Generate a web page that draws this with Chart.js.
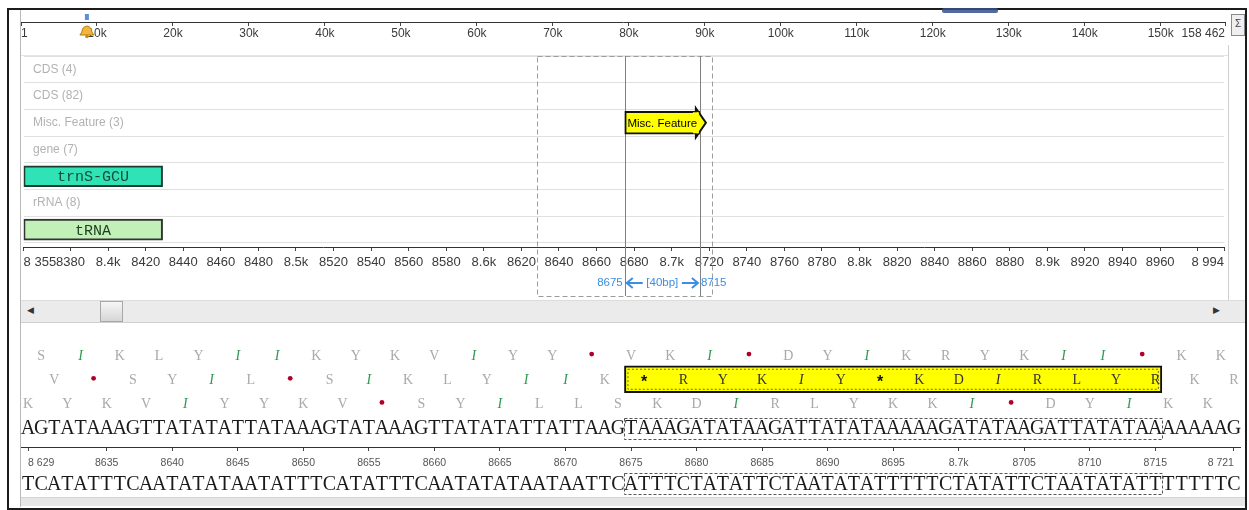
<!DOCTYPE html>
<html><head><meta charset="utf-8"><title>Sequence view</title>
<script src="https://cdn.jsdelivr.net/npm/chart.js@4.4.1/dist/chart.umd.min.js"></script>
<style>
html,body{margin:0;padding:0;background:#fff}
body{width:1249px;height:510px;position:relative;overflow:hidden;font-family:'Liberation Sans',Arial,sans-serif}
canvas{position:absolute;left:0}
.a{position:absolute;box-sizing:border-box}
</style></head><body>
<div class="a" style="left:7px;top:8px;width:1240px;height:502px;border:2px solid #1c1c1c"></div>
<div class="a" style="left:20px;top:10px;width:1px;height:497px;background:#b8b8b8"></div>
<div class="a" style="left:942px;top:8px;width:56px;height:5px;background:#34508c;border-radius:2px;opacity:.85"></div>
<div class="a" style="left:1231px;top:14px;width:14px;height:22px;border:1px solid #8a8a8a;background:#efefef;font-size:10px;line-height:18px;text-align:center;color:#444">Σ</div>
<div class="a" style="left:21px;top:55px;width:1208px;height:1px;background:#e4e4e4"></div>
<div class="a" style="left:1228px;top:45px;width:1px;height:255px;background:#cfcfcf"></div>
<div class="a" style="left:21px;top:300px;width:1224px;height:23px;background:#ebebeb;border-top:1px solid #dcdcdc;border-bottom:1px solid #d0d0d0"></div>
<div class="a" style="left:27px;top:305px;font-size:9px;color:#333">◀</div>
<div class="a" style="left:100px;top:301px;width:23px;height:21px;border:1px solid #a8a8a8;background:linear-gradient(#f6f6f6,#d6d6d6)"></div>
<div class="a" style="left:1213px;top:305px;font-size:9px;color:#333">▶</div>
<div class="a" style="left:21px;top:497px;width:1224px;height:9px;background:#e6e6e6;border-top:1px solid #d4d4d4"></div>

<canvas id="ov" width="1249" height="35" style="top:10px"></canvas>
<canvas id="tr" width="1249" height="255" style="top:45px"></canvas>
<canvas id="sq" width="1249" height="182" style="top:323px"></canvas>

<script>
// ---------------- data ----------------
const genomeLength = 158462;
const cursorPosition = 8675;
const overviewTicks = [1,10000,20000,30000,40000,50000,60000,70000,80000,90000,100000,110000,120000,130000,140000,150000,158462];
const overviewTickLabels = ['1','10k','20k','30k','40k','50k','60k','70k','80k','90k','100k','110k','120k','130k','140k','150k','158 462'];

const viewRange = [8355, 8994];
const trackNames = ['CDS (4)','CDS (82)','Misc. Feature (3)','gene (7)','','rRNA (8)',''];
const trackTicks = [8355,8380,8400,8420,8440,8460,8480,8500,8520,8540,8560,8580,8600,8620,8640,8660,8680,8700,8720,8740,8760,8780,8800,8820,8840,8860,8880,8900,8920,8940,8960,8980,8994];
const trackTickLabels = ['8 355','8380','8.4k','8420','8440','8460','8480','8.5k','8520','8540','8560','8580','8.6k','8620','8640','8660','8680','8.7k','8720','8740','8760','8780','8.8k','8820','8840','8860','8880','8.9k','8920','8940','8960','','8 994'];

const featureNames = ['Misc. Feature','trnS-GCU','tRNA'];
const featureStart = [8675, 8355, 8355];
const featureEnd   = [8715, 8429, 8429];
const featureTrack = [2, 4, 6];

const selection = [8675, 8715];
const seqRange = [8629, 8721];
const seqTicks = [8629,8635,8640,8645,8650,8655,8660,8665,8670,8675,8680,8685,8690,8695,8700,8705,8710,8715,8721];
const seqTickLabels = ['8 629','8635','8640','8645','8650','8655','8660','8665','8670','8675','8680','8685','8690','8695','8.7k','8705','8710','8715','8 721'];
const fwdSeq = 'AGTATAAAGTTATATATTATAAAGTATAAAGTTATATATTATTAAGTAAAGATATAAGATTATATAAAAAGATATAAGATTATATAAAAAAAG';
const revSeq = 'TCATATTTCAATATATAATATTTCATATTTCAATATATAATAATTCATTTCTATATTCTAATATATTTTTCTATATTCTAATATATTTTTTTC';
const frame1 = 'SIKLYIIKYKVIYY*VKI*DYIKRYKII*KK'.split('');
const frame2 = 'V*SYIL*SIKLYIIK*RYKIY*KDIRLYRKR'.split('');
const frame3 = 'KYKVIYYKV*SYILLSKDIRLYKKI*DYIKK'.split('');
const frameOffsets = [1, 2, 0];
const highlightFrame = 1;

// ---------------- setup ----------------
Chart.defaults.font.family = "'Liberation Sans', Arial, sans-serif";
Chart.defaults.animation = false;
Chart.defaults.plugins.legend.display = false;
Chart.defaults.plugins.tooltip.enabled = false;

const noPad = s => { s.paddingLeft = 0; s.paddingRight = 0; s.paddingTop = 0; s.paddingBottom = 0; };

// ---------- overview ----------
const overviewMarker = {
  id:'ovMarker',
  afterDraw(chart){
    const {ctx, chartArea:ca, scales:{x}} = chart;
    const px = x.getPixelForValue(cursorPosition);
    const yb = ca.bottom;
    ctx.save();
    ctx.fillStyle = '#5a8fdc';
    ctx.fillRect(px-2, yb-8, 4, 6);
    ctx.beginPath();
    ctx.moveTo(px, yb+4);
    ctx.quadraticCurveTo(px+5, yb+5, px+5, yb+10);
    ctx.lineTo(px+7, yb+13);
    ctx.lineTo(px-7, yb+13);
    ctx.lineTo(px-5, yb+10);
    ctx.quadraticCurveTo(px-5, yb+5, px, yb+4);
    ctx.closePath();
    ctx.fillStyle = '#f1b63c';
    ctx.fill();
    ctx.strokeStyle = '#b57d12';
    ctx.lineWidth = 1;
    ctx.stroke();
    ctx.beginPath();
    ctx.arc(px, yb+14.5, 1.8, 0, Math.PI*2);
    ctx.fillStyle = '#c98a1a';
    ctx.fill();
    ctx.restore();
  }
};

new Chart(document.getElementById('ov'), {
  type:'scatter',
  data:{datasets:[{data:[]}]},
  options:{
    responsive:false,
    layout:{padding:{left:21,right:24,top:0,bottom:0}},
    scales:{
      x:{type:'linear',min:1,max:genomeLength,
        afterBuildTicks:s=>{s.ticks = overviewTicks.map(v=>({value:v}));},
        afterFit:s=>{s.height = 23; noPad(s);},
        grid:{drawOnChartArea:false,tickLength:4,color:'#444'},
        border:{color:'#333'},
        ticks:{autoSkip:false,maxRotation:0,align:'inner',padding:0,color:'#3a3a3a',font:{size:12},
          callback:(v,i)=>overviewTickLabels[i]}
      },
      y:{display:false,min:0,max:1}
    }
  },
  plugins:[overviewMarker]
});

// ---------- tracks ----------
const featureStyles = [
  {bg:'#ffff00', border:'#111111', thick:23, font:'11.5px "Liberation Sans", Arial', color:'#000'},
  {bg:'#2fe3b6', border:'#1b3d30', thick:21, font:'15px "Liberation Mono", monospace', color:'#1a4a36'},
  {bg:'#c2f1b8', border:'#333333', thick:21, font:'15px "Liberation Mono", monospace', color:'#1f3f1f'}
];

const trackOverlay = {
  id:'trackOverlay',
  beforeDatasetsDraw(chart){
    const {ctx, chartArea:ca, scales:{x}} = chart;
    const bottom = 251;
    ctx.save();
    const dx0 = x.getPixelForValue(seqRange[0]-0.5), dx1 = x.getPixelForValue(seqRange[1]+0.5);
    ctx.setLineDash([5,3]);
    ctx.strokeStyle = '#9c9c9c';
    ctx.lineWidth = 1;
    ctx.strokeRect(Math.round(dx0)+0.5, ca.top+0.5, Math.round(dx1-dx0), bottom-ca.top);
    ctx.setLineDash([]);
    ctx.strokeStyle = '#808080';
    selection.forEach(v=>{
      const px = Math.round(x.getPixelForValue(v))+0.5;
      ctx.beginPath(); ctx.moveTo(px, ca.top); ctx.lineTo(px, bottom); ctx.stroke();
    });
    ctx.restore();
  },
  afterDatasetsDraw(chart){
    const {ctx, scales:{x}} = chart;
    ctx.save();
    chart.data.datasets.forEach((ds, i)=>{
      const el = chart.getDatasetMeta(i).data[0];
      const st = featureStyles[i];
      const cy = el.y;
      if (i === 0) {
        const tip = el.x;
        const h = el.height/2;
        ctx.beginPath();
        ctx.moveTo(tip-4, cy-h-3);
        ctx.lineTo(tip+6, cy);
        ctx.lineTo(tip-4, cy+h+3);
        ctx.closePath();
        ctx.fillStyle = st.bg; ctx.fill();
        ctx.strokeStyle = st.border; ctx.lineWidth = 2; ctx.stroke();
        ctx.fillStyle = st.bg;
        ctx.fillRect(tip-7, cy-h+1, 6, 2*h-2);
      }
      ctx.font = st.font;
      ctx.fillStyle = st.color;
      ctx.textAlign = 'center';
      ctx.textBaseline = 'middle';
      ctx.fillText(featureNames[i], (el.x+el.base)/2, cy+1);
    });
    const xs = x.getPixelForValue(selection[0]), xe = x.getPixelForValue(selection[1]);
    const ay = 238;
    ctx.fillStyle = '#3d8de0'; ctx.strokeStyle = '#3d8de0';
    ctx.font = '11.5px "Liberation Sans", Arial';
    ctx.textBaseline = 'middle';
    ctx.textAlign = 'right'; ctx.fillText(String(selection[0]), xs-2, ay);
    ctx.textAlign = 'left'; ctx.fillText(String(selection[1]), xe+1, ay);
    ctx.textAlign = 'center';
    ctx.fillText('[' + (selection[1]-selection[0]) + 'bp]', (xs+xe)/2, ay);
    ctx.lineWidth = 2;
    const arrow = (from, to) => {
      const d = Math.sign(to-from);
      ctx.beginPath(); ctx.moveTo(from, ay); ctx.lineTo(to, ay); ctx.stroke();
      ctx.beginPath(); ctx.moveTo(to-d*6, ay-5); ctx.lineTo(to, ay); ctx.lineTo(to-d*6, ay+5); ctx.stroke();
    };
    arrow(xs+18, xs+2);
    arrow(xe-18, xe-2);
    ctx.restore();
  }
};

const rowTicks = [];
for (let r = 0; r < trackNames.length; r++) { rowTicks.push(r-0.5, r); }
rowTicks.push(trackNames.length-0.5);

new Chart(document.getElementById('tr'), {
  type:'bar',
  data:{datasets: featureNames.map((n,i)=>({
    label:n,
    data:[{x:[featureStart[i], featureEnd[i]], y:featureTrack[i]}],
    backgroundColor:featureStyles[i].bg,
    borderColor:featureStyles[i].border,
    borderWidth:2,
    borderSkipped:false,
    barThickness:featureStyles[i].thick
  }))},
  options:{
    responsive:false,
    indexAxis:'y',
    layout:{padding:{left:23.6,right:25,top:11,bottom:0}},
    datasets:{bar:{grouped:false}},
    scales:{
      x:{type:'linear',min:viewRange[0],max:viewRange[1],position:'bottom',offset:false,
        afterBuildTicks:s=>{s.ticks = trackTicks.map(v=>({value:v}));},
        afterFit:s=>{s.height = 53; noPad(s);},
        grid:{drawOnChartArea:false,tickLength:4,color:'#444'},
        border:{color:'#333'},
        ticks:{autoSkip:false,maxRotation:0,align:'inner',padding:4,color:'#3a3a3a',font:{size:13},
          callback:(v,i)=>trackTickLabels[i]}
      },
      y:{type:'linear',min:-0.5,max:trackNames.length-0.35,reverse:true,position:'left',offset:false,
        afterBuildTicks:s=>{s.ticks = rowTicks.map(v=>({value:v}));},
        afterFit:s=>{s.width = 0; noPad(s);},
        grid:{drawTicks:false,offset:false,color:c=>(c.tick && Number.isInteger(c.tick.value)) ? 'rgba(0,0,0,0)' : '#e0e0e0'},
        border:{display:false},
        ticks:{autoSkip:false,mirror:true,padding:9.5,color:'#b2b2b2',font:{size:12},
          callback:v=>Number.isInteger(v) ? trackNames[v] : ''}
      }
    }
  },
  plugins:[trackOverlay]
});

// ---------- sequence ----------
const revRow = 5.3;
const seqPlugin = {
  id:'seqText',
  afterDatasetsDraw(chart){
    const {ctx, scales:{x, y}} = chart;
    ctx.save();
    const box = chart.getDatasetMeta(0).data[0];
    const bt = box.y - box.height/2, bb = box.y + box.height/2;
    ctx.setLineDash([2,2]);
    ctx.strokeStyle = '#6a6a3a';
    ctx.lineWidth = 1;
    ctx.strokeRect(box.base+3.5, bt+3.5, box.x-box.base-7, bb-bt-7);
    ctx.setLineDash([]);

    ctx.textAlign = 'center';
    ctx.textBaseline = 'middle';
    [frame1, frame2, frame3].forEach((fr, r)=>{
      const yy = y.getPixelForValue(r);
      fr.forEach((aa, i)=>{
        const pos = seqRange[0] + frameOffsets[r] + 3*i;
        const xx = x.getPixelForValue(pos);
        const inBox = r === highlightFrame && pos >= selection[0] && pos <= selection[1];
        if (aa === '*') {
          if (inBox) {
            ctx.font = 'bold 16px "Liberation Sans", Arial';
            ctx.fillStyle = '#111';
            ctx.fillText('*', xx, yy+3);
          } else {
            ctx.beginPath(); ctx.arc(xx, yy-1, 2.4, 0, Math.PI*2);
            ctx.fillStyle = '#b0002a'; ctx.fill();
          }
          return;
        }
        if (aa === 'I') {
          ctx.font = 'italic 14px "Liberation Serif", serif';
          ctx.fillStyle = inBox ? '#333' : '#2f9a4f';
        } else {
          ctx.font = '14px "Liberation Serif", serif';
          ctx.fillStyle = inBox ? '#333' : '#a9a9a9';
        }
        ctx.fillText(aa, xx, yy+1);
      });
    });
    ctx.font = '20px "Liberation Serif", serif';
    ctx.fillStyle = '#1a1a1a';
    const yf = y.getPixelForValue(3), yr = y.getPixelForValue(revRow);
    fwdSeq.split('').forEach((b, i)=>{ ctx.fillText(b, x.getPixelForValue(seqRange[0]+i), yf+1); });
    revSeq.split('').forEach((b, i)=>{ ctx.fillText(b, x.getPixelForValue(seqRange[0]+i), yr+1); });
    const sx0 = Math.round(x.getPixelForValue(selection[0]-0.5))+0.5;
    const sx1 = Math.round(x.getPixelForValue(selection[1]+0.5))+0.5;
    ctx.setLineDash([3,2]);
    ctx.strokeStyle = '#555';
    ctx.strokeRect(sx0, Math.round(yf-10)+0.5, sx1-sx0, 21);
    ctx.strokeRect(sx0, Math.round(yr-10)+0.5, sx1-sx0, 21);
    ctx.restore();
  }
};

new Chart(document.getElementById('sq'), {
  type:'bar',
  data:{datasets:[{
    label:'translation',
    data:[{x:[selection[0]-0.5, selection[1]+0.5], y:highlightFrame}],
    backgroundColor:'#ffff00',
    borderColor:'#111',
    borderWidth:2,
    borderSkipped:false,
    barThickness:27
  }]},
  options:{
    responsive:false,
    indexAxis:'y',
    layout:{padding:{left:21.5,right:8.5,top:20,bottom:0}},
    scales:{
      x:{type:'linear',min:seqRange[0]-0.5,max:seqRange[1]+0.5,position:'bottom',offset:false,
        afterBuildTicks:s=>{s.ticks = seqTicks.map(v=>({value:v}));},
        afterFit:s=>{s.height = 58; noPad(s);},
        grid:{drawOnChartArea:false,tickLength:4,color:'#444'},
        border:{color:'#333'},
        ticks:{autoSkip:false,maxRotation:0,align:'inner',padding:6,color:'#555',font:{size:10.5},
          callback:(v,i)=>seqTickLabels[i]}
      },
      y:{type:'linear',display:false,offset:false,min:-0.5,max:3.8,reverse:true}
    }
  },
  plugins:[seqPlugin]
});
</script>
</body></html>
